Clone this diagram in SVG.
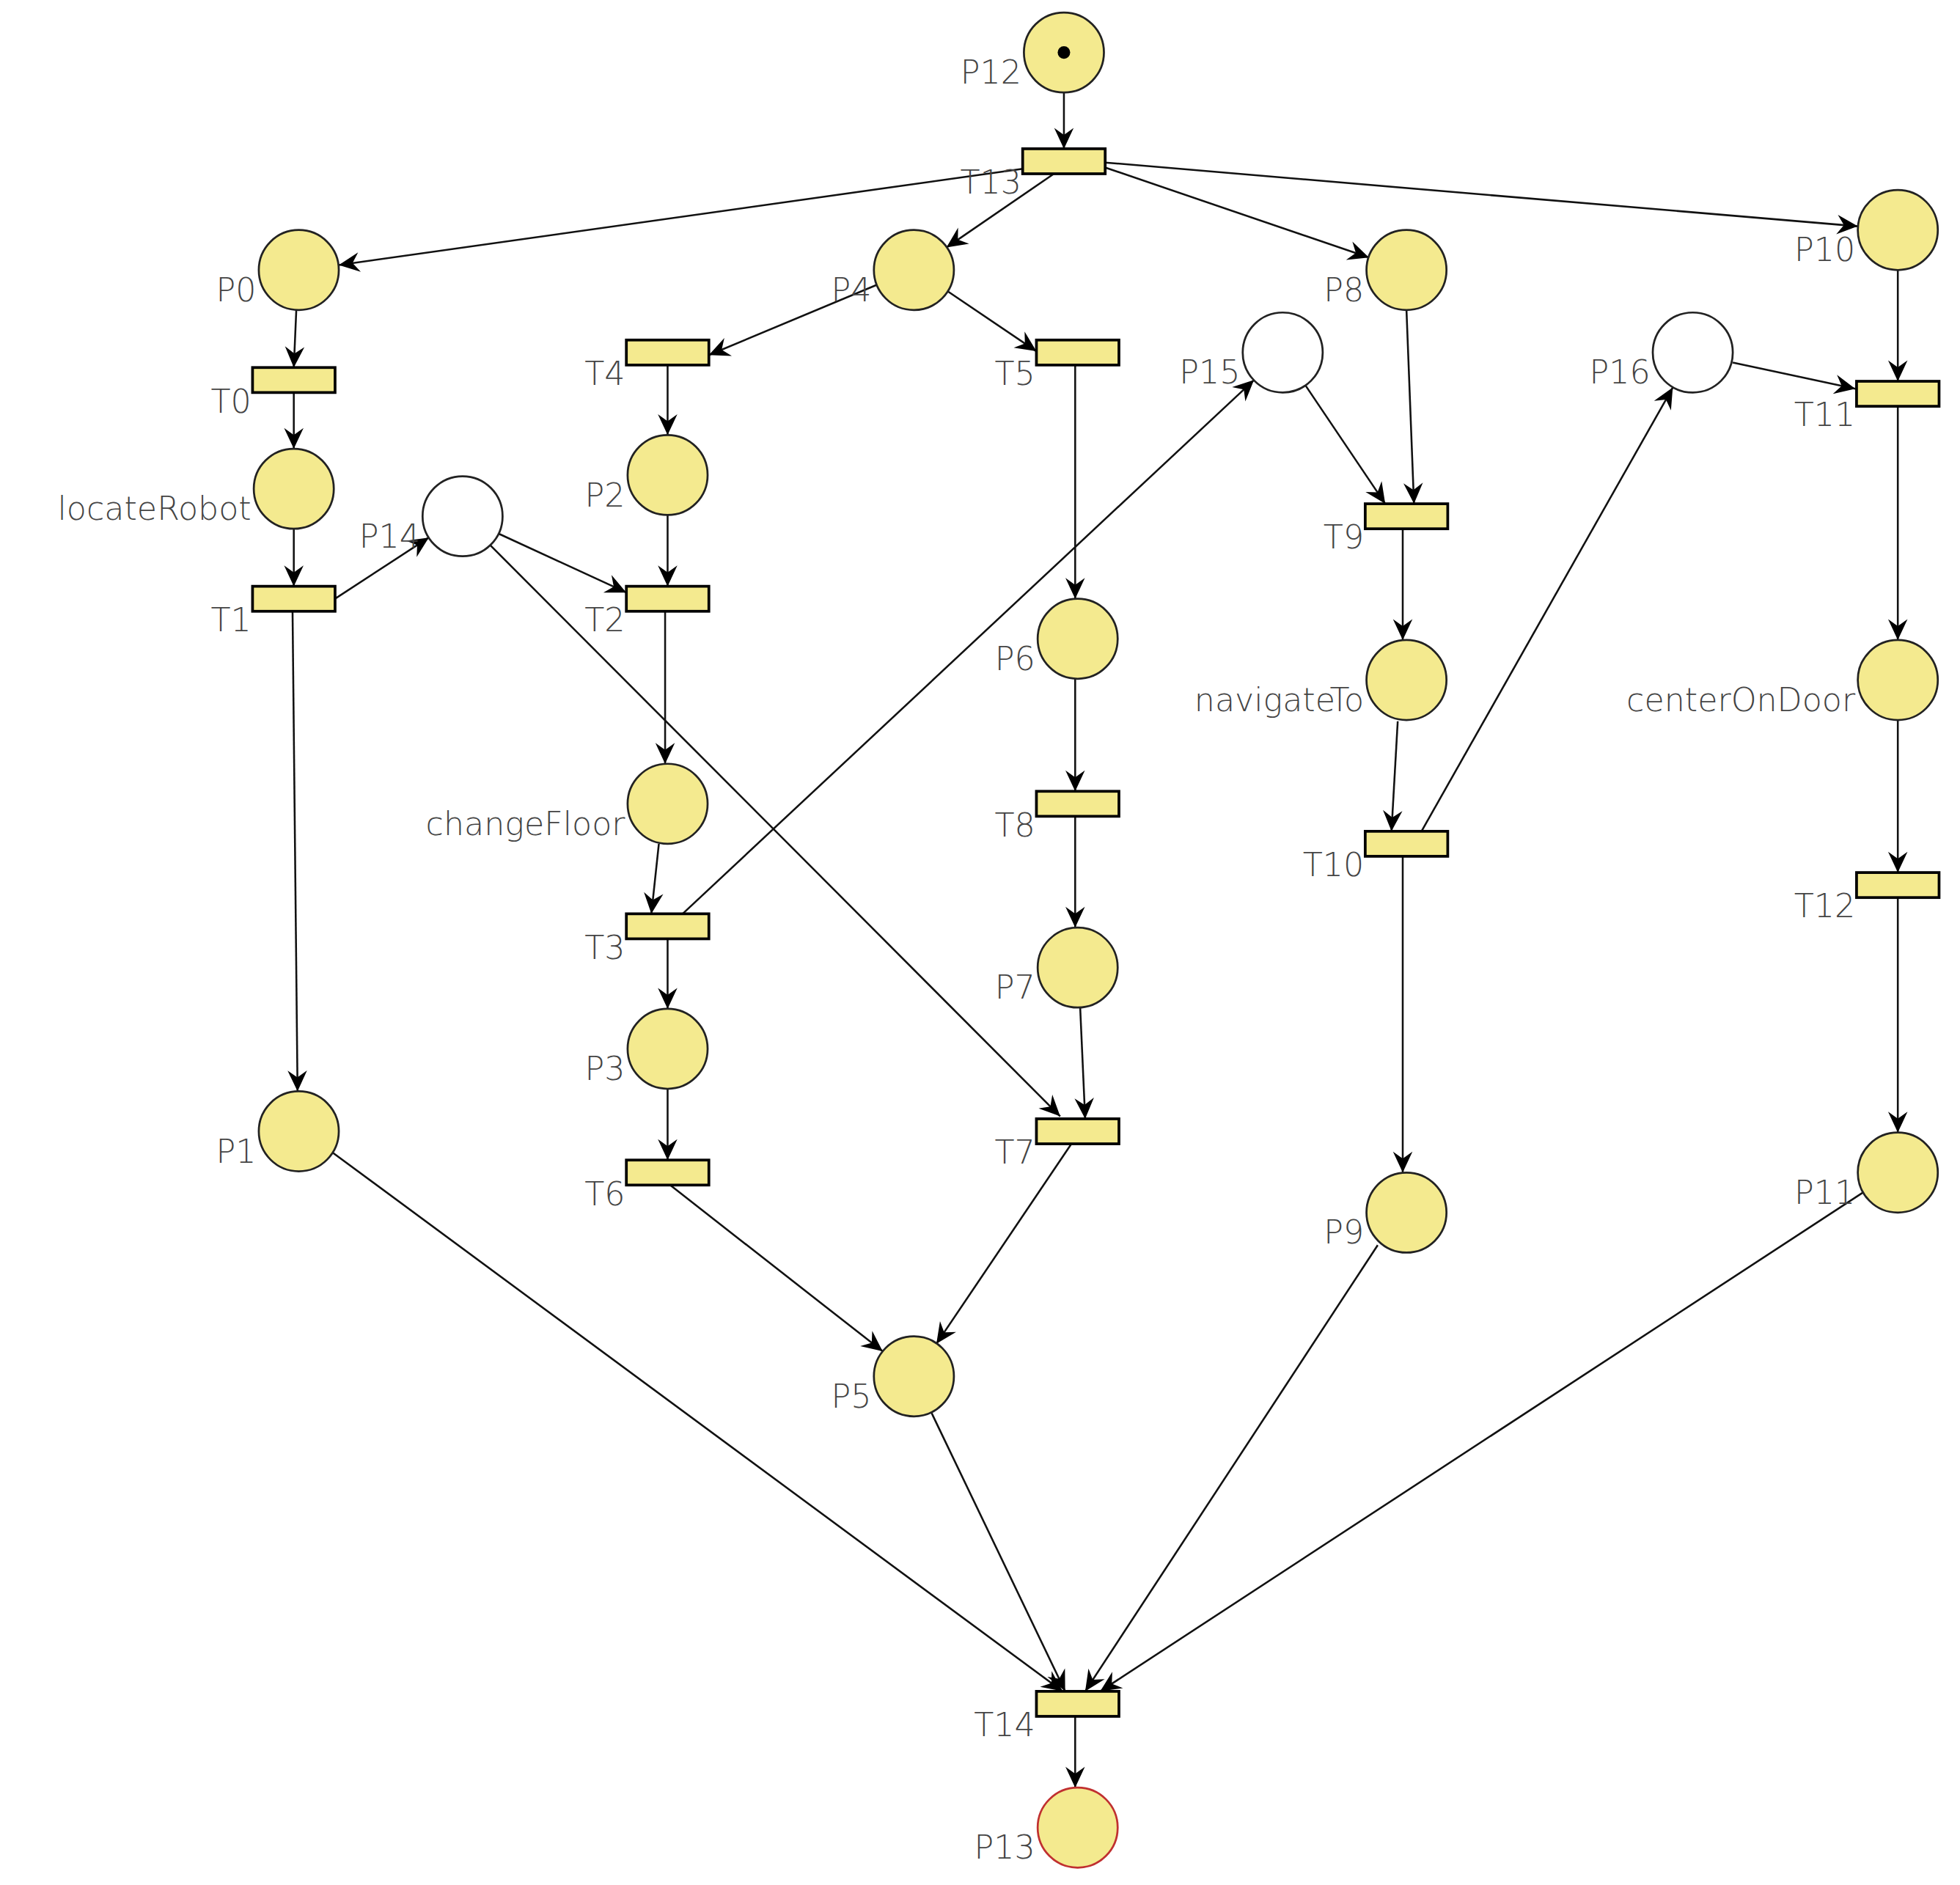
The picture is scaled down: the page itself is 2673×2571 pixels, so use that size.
<svg xmlns="http://www.w3.org/2000/svg" width="2673" height="2571" viewBox="0 0 2673 2571">
<style>
.pl{fill:#f4ea8f;stroke:#222;stroke-width:1.6}
.em{fill:#fff;stroke:#222;stroke-width:1.6}
.tr{fill:#f4ea8f;stroke:#000;stroke-width:2.2}
.a{stroke:#111;stroke-width:1.5;fill:none;marker-end:url(#ah)}
text{font-family:"DejaVu Sans","Liberation Sans",sans-serif;font-size:26px;fill:#444;text-anchor:end;font-weight:300}
</style>
<defs>
<marker id="ah" markerUnits="userSpaceOnUse" markerWidth="20" markerHeight="20" viewBox="-16 -8 18 16" refX="0" refY="0" orient="auto">
<path d="M0,0 L-15,-7 L-10,0 L-15,7 z" fill="#000"/>
</marker>
</defs>
<rect width="2673" height="2571" fill="#fff"/>
<g transform="scale(1.705)">
<g id="connectors">
<line class="a" x1="851" y1="74" x2="851" y2="119"/>
<line class="a" x1="818" y1="135" x2="271" y2="212"/>
<line class="a" x1="843" y1="139" x2="757" y2="198"/>
<line class="a" x1="884" y1="134" x2="1095" y2="206"/>
<line class="a" x1="884" y1="130" x2="1486" y2="181"/>
<line class="a" x1="237" y1="248" x2="235" y2="294"/>
<line class="a" x1="701" y1="228" x2="567" y2="284"/>
<line class="a" x1="758" y1="233" x2="829" y2="281"/>
<line class="a" x1="534" y1="292" x2="534" y2="348"/>
<line class="a" x1="235" y1="314" x2="235" y2="359"/>
<line class="a" x1="235" y1="423" x2="235" y2="469"/>
<line class="a" x1="268" y1="479" x2="343" y2="430"/>
<line class="a" x1="399" y1="427" x2="501" y2="474"/>
<line class="a" x1="534" y1="412" x2="534" y2="469"/>
<line class="a" x1="392" y1="436" x2="848" y2="893"/>
<line class="a" x1="532" y1="489" x2="532" y2="611"/>
<line class="a" x1="860" y1="292" x2="860" y2="479"/>
<line class="a" x1="527" y1="675" x2="521" y2="731"/>
<line class="a" x1="546" y1="731" x2="1003" y2="304"/>
<line class="a" x1="1044" y1="308" x2="1108" y2="403"/>
<line class="a" x1="1125" y1="248" x2="1131" y2="403"/>
<line class="a" x1="1122" y1="423" x2="1122" y2="512"/>
<line class="a" x1="1118" y1="577" x2="1113" y2="665"/>
<line class="a" x1="1137" y1="665" x2="1338" y2="310"/>
<line class="a" x1="1386" y1="290" x2="1484" y2="311"/>
<line class="a" x1="1518" y1="216" x2="1518" y2="305"/>
<line class="a" x1="1518" y1="325" x2="1518" y2="512"/>
<line class="a" x1="1518" y1="576" x2="1518" y2="698"/>
<line class="a" x1="1518" y1="718" x2="1518" y2="906"/>
<line class="a" x1="234" y1="489" x2="238" y2="873"/>
<line class="a" x1="860" y1="543" x2="860" y2="633"/>
<line class="a" x1="860" y1="653" x2="860" y2="742"/>
<line class="a" x1="864" y1="806" x2="868" y2="895"/>
<line class="a" x1="534" y1="751" x2="534" y2="807"/>
<line class="a" x1="534" y1="871" x2="534" y2="928"/>
<line class="a" x1="536" y1="948" x2="706" y2="1081"/>
<line class="a" x1="857" y1="915" x2="749" y2="1075"/>
<line class="a" x1="1122" y1="685" x2="1122" y2="938"/>
<line class="a" x1="266" y1="922" x2="850" y2="1353"/>
<line class="a" x1="745" y1="1130" x2="852" y2="1353"/>
<line class="a" x1="1102" y1="996" x2="868" y2="1353"/>
<line class="a" x1="1490" y1="954" x2="880" y2="1353"/>
<line class="a" x1="860" y1="1373" x2="860" y2="1430"/>
</g>
<g id="P12"><circle class="pl" cx="851" cy="42" r="32"/><circle cx="851" cy="42" r="5" fill="#000"/><text x="817" y="67">P12</text></g>
<g id="T13"><rect class="tr" x="818" y="119" width="66" height="20"/><text x="817" y="155">T13</text></g>
<g id="P0"><circle class="pl" cx="239" cy="216" r="32"/><text x="205" y="241">P0</text></g>
<g id="P4"><circle class="pl" cx="731" cy="216" r="32"/><text x="697" y="241">P4</text></g>
<g id="P8"><circle class="pl" cx="1125" cy="216" r="32"/><text x="1091" y="241">P8</text></g>
<g id="P10"><circle class="pl" cx="1518" cy="184" r="32"/><text x="1484" y="209">P10</text></g>
<g id="T0"><rect class="tr" x="202" y="294" width="66" height="20"/><text x="201" y="330">T0</text></g>
<g id="T4"><rect class="tr" x="501" y="272" width="66" height="20"/><text x="500" y="308">T4</text></g>
<g id="T5"><rect class="tr" x="829" y="272" width="66" height="20"/><text x="828" y="308">T5</text></g>
<g id="P15"><circle class="em" cx="1026" cy="282" r="32"/><text x="992" y="307">P15</text></g>
<g id="P16"><circle class="em" cx="1354" cy="282" r="32"/><text x="1320" y="307">P16</text></g>
<g id="T11"><rect class="tr" x="1485" y="305" width="66" height="20"/><text x="1484" y="341">T11</text></g>
<g id="locateRobot"><circle class="pl" cx="235" cy="391" r="32"/><text x="201" y="416">locateRobot</text></g>
<g id="P2"><circle class="pl" cx="534" cy="380" r="32"/><text x="500" y="405">P2</text></g>
<g id="P14"><circle class="em" cx="370" cy="413" r="32"/><text x="336" y="438">P14</text></g>
<g id="T9"><rect class="tr" x="1092" y="403" width="66" height="20"/><text x="1091" y="439">T9</text></g>
<g id="T1"><rect class="tr" x="202" y="469" width="66" height="20"/><text x="201" y="505">T1</text></g>
<g id="T2"><rect class="tr" x="501" y="469" width="66" height="20"/><text x="500" y="505">T2</text></g>
<g id="P6"><circle class="pl" cx="862" cy="511" r="32"/><text x="828" y="536">P6</text></g>
<g id="navigateTo"><circle class="pl" cx="1125" cy="544" r="32"/><text x="1091" y="569">navigateTo</text></g>
<g id="centerOnDoor"><circle class="pl" cx="1518" cy="544" r="32"/><text x="1484" y="569">centerOnDoor</text></g>
<g id="changeFloor"><circle class="pl" cx="534" cy="643" r="32"/><text x="500" y="668">changeFloor</text></g>
<g id="T8"><rect class="tr" x="829" y="633" width="66" height="20"/><text x="828" y="669">T8</text></g>
<g id="T10"><rect class="tr" x="1092" y="665" width="66" height="20"/><text x="1091" y="701">T10</text></g>
<g id="T12"><rect class="tr" x="1485" y="698" width="66" height="20"/><text x="1484" y="734">T12</text></g>
<g id="T3"><rect class="tr" x="501" y="731" width="66" height="20"/><text x="500" y="767">T3</text></g>
<g id="P7"><circle class="pl" cx="862" cy="774" r="32"/><text x="828" y="799">P7</text></g>
<g id="P3"><circle class="pl" cx="534" cy="839" r="32"/><text x="500" y="864">P3</text></g>
<g id="P1"><circle class="pl" cx="239" cy="905" r="32"/><text x="205" y="930">P1</text></g>
<g id="T7"><rect class="tr" x="829" y="895" width="66" height="20"/><text x="828" y="931">T7</text></g>
<g id="T6"><rect class="tr" x="501" y="928" width="66" height="20"/><text x="500" y="964">T6</text></g>
<g id="P9"><circle class="pl" cx="1125" cy="970" r="32"/><text x="1091" y="995">P9</text></g>
<g id="P11"><circle class="pl" cx="1518" cy="938" r="32"/><text x="1484" y="963">P11</text></g>
<g id="P5"><circle class="pl" cx="731" cy="1101" r="32"/><text x="697" y="1126">P5</text></g>
<g id="T14"><rect class="tr" x="829" y="1353" width="66" height="20"/><text x="828" y="1389">T14</text></g>
<g id="P13"><circle class="pl" cx="862" cy="1462" r="32" style="stroke:#c03030"/><text x="828" y="1487">P13</text></g>
</g>
</svg>
